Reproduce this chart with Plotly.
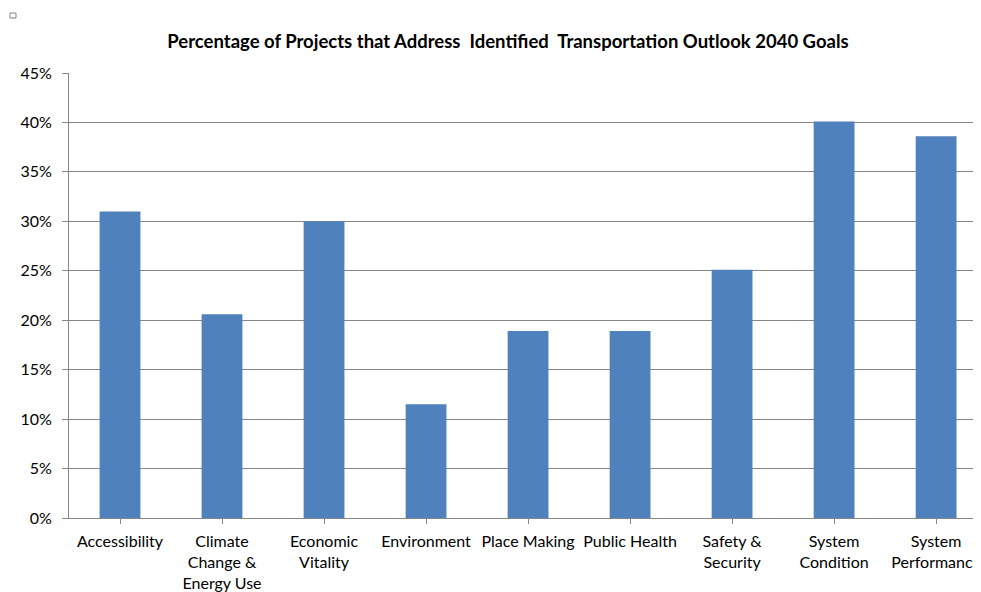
import plotly.graph_objects as go

categories = ["Accessibility", "Climate<br>Change &<br>Energy Use", "Economic<br>Vitality",
              "Environment", "Place Making", "Public Health", "Safety &<br>Security",
              "System<br>Condition", "System<br>Performance"]
values = [0.31, 0.206, 0.30, 0.115, 0.189, 0.189, 0.251, 0.401, 0.386]
y_ticks = [0, 0.05, 0.10, 0.15, 0.20, 0.25, 0.30, 0.35, 0.40, 0.45]
y_tick_labels = ["0%", "5%", "10%", "15%", "20%", "25%", "30%", "35%", "40%", "45%"]
title = "Percentage of Projects that Address\u00a0 Identified\u00a0 Transportation Outlook 2040 Goals"

FONT = "Lato, Calibri, sans-serif"
OFF = 8  # page body margin

fig = go.Figure(go.Bar(x=list(range(len(categories))), y=values, marker_color="#4F81BD",
                       marker_line_width=0, width=0.4))

fig.update_layout(
    width=981, height=592,
    margin=dict(l=69 - OFF, r=OFF, t=73 - OFF, b=74 + OFF, autoexpand=False),
    paper_bgcolor="white", plot_bgcolor="white",
    font=dict(family=FONT, size=16, color="black"),
    title=dict(text="<b>" + title + "</b>", x=(508 - OFF) / 981, xref="container", xanchor="center",
               y=1 - (42 - OFF) / 592, yref="container", yanchor="middle",
               font=dict(family=FONT, size=18.5, color="black")),
    showlegend=False,
    shapes=[dict(type="rect", xref="paper", yref="paper",
                 x0=(10 - 69) / 912, x1=(16 - 69) / 912, y0=(518 - 13) / 445, y1=(518 - 18) / 445,
                 line=dict(color="#808080", width=1), fillcolor="white")],
)
fig.update_xaxes(
    range=[-0.5, 8.44], tickmode="array", tickvals=list(range(len(categories))),
    ticktext=categories, ticks="outside", ticklen=5, tickcolor="#868686",
    showline=True, linecolor="#868686", linewidth=1, showgrid=False, zeroline=False,
    tickangle=0, tickfont=dict(size=16), ticklabelstandoff=4, automargin=False,
)
fig.update_yaxes(
    range=[0, 0.45], tickmode="array", tickvals=y_ticks, ticktext=y_tick_labels,
    ticks="outside", ticklen=6, tickcolor="#868686",
    showline=True, linecolor="#868686", linewidth=1,
    showgrid=True, gridcolor="#868686", gridwidth=1, zeroline=False,
    tickfont=dict(size=16), ticklabelstandoff=7, automargin=False,
)

fig.write_html("out.html")
